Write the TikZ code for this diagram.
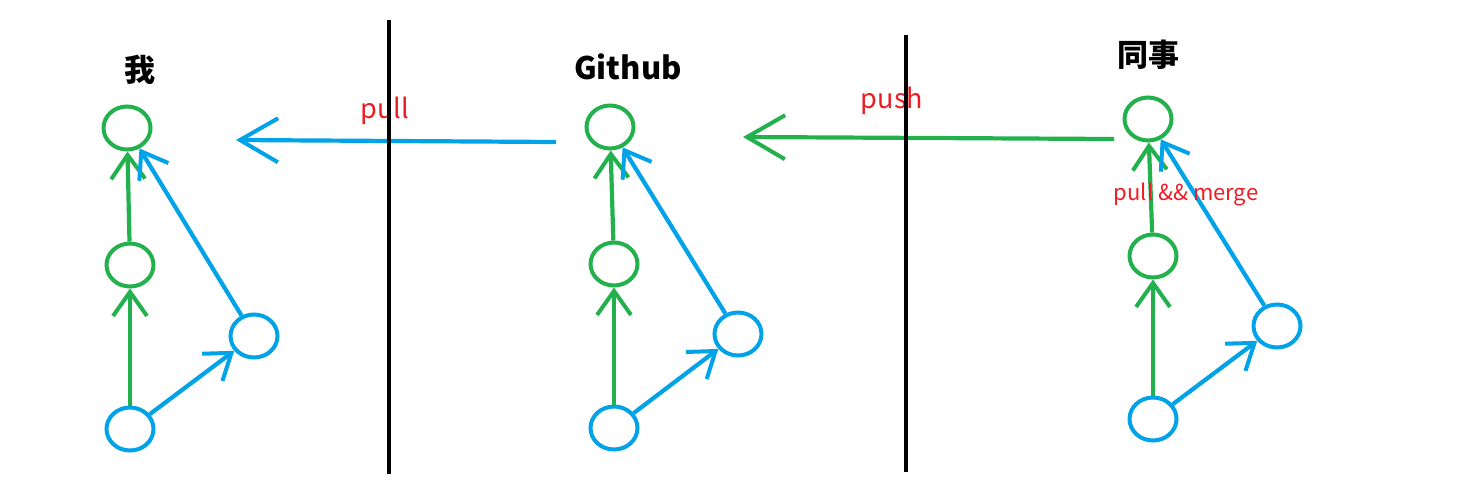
\documentclass[tikz,border=0pt]{standalone}
\usepackage{fontspec}
\setmainfont{Noto Sans CJK SC}
\usepackage{xcolor}
\usepackage{tikz}
\usetikzlibrary{shapes.geometric,arrows.meta}
\definecolor{pgreen}{RGB}{34,177,76}
\definecolor{pblue}{RGB}{0,162,232}
\definecolor{pred}{RGB}{237,28,36}
\tikzset{
  commit/.style={ellipse,draw,line width=2pt,minimum width=23.5pt,minimum height=21.5pt,inner sep=0pt},
  gcommit/.style={commit,pgreen},
  bcommit/.style={commit,pblue},
  smalltip/.style={-{Straight Barb[length=12pt,width=17pt,line width=2pt]},line width=2.1pt},
  bigtip/.style={-{Straight Barb[length=19pt,width=22pt,line width=2pt]},line width=2.1pt},
  title/.style={font=\fontsize{15.5pt}{18pt}\selectfont\bfseries},
  note/.style={text=pred,font=\fontsize{13.5pt}{15pt}\selectfont},
  smallnote/.style={text=pred,font=\fontsize{11pt}{13pt}\selectfont}
}

\begin{document}
\begin{tikzpicture}[x=0.5pt,y=-0.5pt]
      \useasboundingbox (0,0) rectangle (1472,493);
      % commits
      \node[gcommit] (m1) at (127,128) {};
      \node[gcommit] (m2) at (130,265) {};
      \node[bcommit] (m3) at (130,429) {};
      \node[bcommit] (m4) at (254,336) {};
      \node[gcommit] (g1) at (610,127) {};
      \node[gcommit] (g2) at (614,264) {};
      \node[bcommit] (g3) at (614,428) {};
      \node[bcommit] (g4) at (738,334) {};
      \node[gcommit] (c1) at (1148,119) {};
      \node[gcommit] (c2) at (1153,256) {};
      \node[bcommit] (c3) at (1153,419) {};
      \node[bcommit] (c4) at (1277,326) {};
      \foreach \p in {m,g,c} {
        \draw [smalltip,pgreen] (\p3) -- (\p2);
        \draw [smalltip,pgreen] (\p2) -- (\p1);
        \draw [smalltip,pblue] (\p3) -- (\p4);
        \draw [smalltip,pblue] (\p4) -- (\p1);
      }
      % labels
      \node[title] (me) at (140,70) {我};
      \node[title,anchor=base] (github) at (628,79) {Github};
      \node[title] (mate) at (1148,55) {同事};
      \node[note,anchor=base] (pulltext) at (385,118) {pull};
      \node[note,anchor=base] (pushtext) at (892,108) {push};
      \node[smallnote,anchor=base] (mergetext) at (1186,200) {pull \&\& merge};
      % pull and push
      \coordinate (pullfrom) at (556,142);
      \coordinate (pullto) at (236,140);
      \coordinate (pushfrom) at (1114,139);
      \coordinate (pushto) at (743,137);
      \draw [bigtip,pblue] (pullfrom) -- (pullto);
      \draw [bigtip,pgreen] (pushfrom) -- (pushto);
      % borders
      \draw [line width=2.4pt] (389,20) -- (389,474);
      \draw [line width=2.4pt] (906,35) -- (906,472);
    \end{tikzpicture}
\end{document}
